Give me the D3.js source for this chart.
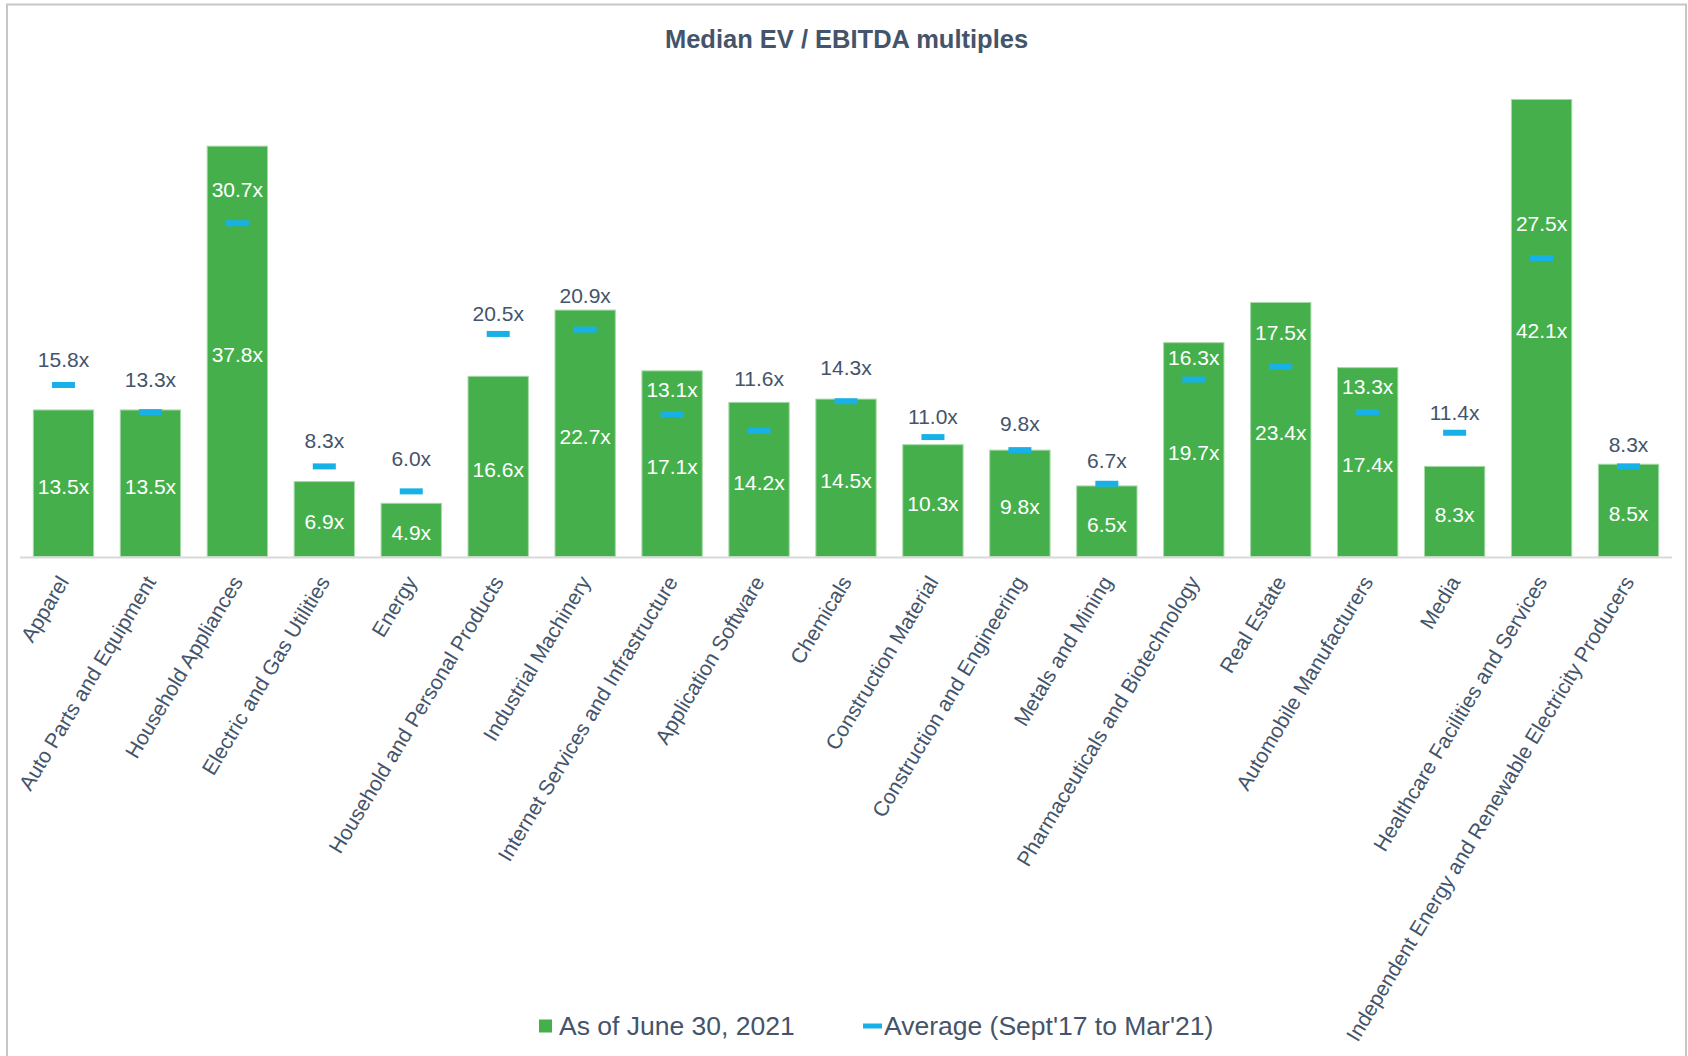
<!DOCTYPE html>
<html lang="en">
	<head>
		<meta charset="utf-8">
		<title>Median EV / EBITDA multiples</title>
		<script src="https://d3js.org/d3.v7.min.js"></script>
		<style>
			body { margin: 0; background: #fff; }
			text { font-family: "Liberation Sans", Arial, sans-serif; }
		</style>
	</head>
	<body>
		<script type="text/javascript">

			// Data
			var sectors = ["Apparel", "Auto Parts and Equipment", "Household Appliances", "Electric and Gas Utilities",
				"Energy", "Household and Personal Products", "Industrial Machinery", "Internet Services and Infrastructure",
				"Application Software", "Chemicals", "Construction Material", "Construction and Engineering",
				"Metals and Mining", "Pharmaceuticals and Biotechnology", "Real Estate", "Automobile Manufacturers",
				"Media", "Healthcare Facilities and Services", "Independent Energy and Renewable Electricity Producers"];
			var current = [13.5, 13.5, 37.8, 6.9, 4.9, 16.6, 22.7, 17.1, 14.2, 14.5, 10.3, 9.8, 6.5, 19.7, 23.4, 17.4, 8.3, 42.1, 8.5];
			var average = [15.8, 13.3, 30.7, 8.3, 6.0, 20.5, 20.9, 13.1, 11.6, 14.3, 11.0, 9.8, 6.7, 16.3, 17.5, 13.3, 11.4, 27.5, 8.3];
			var seriesNames = ["As of June 30, 2021", "Average (Sept'17 to Mar'21)"];

			// manual nudges of the average labels above their markers (px), as placed in the original
			var avgLabelLift = [25, 32, 34, 26, 33, 20, 34, 25, 52, 34, 20, 26, 23, 22, 34, 25, 20, 34, 22];

			//Width and height
			var w = 1688;
			var h = 1056;
			var green = "#45b04b";
			var blue = "#17b1e7";
			var slate = "#44546a";

			var svg = d3.select("body")
						.append("svg")
						.attr("width", w)
						.attr("height", h);

			// chart border
			svg.append("rect")
				.attr("x", 7).attr("y", 4.5)
				.attr("width", 1679).attr("height", 1100)
				.attr("fill", "none")
				.attr("stroke", "#c6c6c6")
				.attr("stroke-width", 2);

			// title
			svg.append("text")
				.attr("x", 846.5).attr("y", 48)
				.attr("text-anchor", "middle")
				.attr("font-size", 25.5)
				.attr("font-weight", "bold")
				.attr("fill", slate)
				.text("Median EV / EBITDA multiples");

			var x = d3.scaleBand()
				.domain(sectors)
				.range([20, 1672])
				.paddingInner(0.306)
				.paddingOuter(0.153);

			var y = d3.scaleLinear()
				.domain([0, 45])
				.range([556.5, 68]);

			// bars
			svg.selectAll("rect.bar")
				.data(sectors)
				.enter()
				.append("rect")
				.attr("class", "bar")
				.attr("x", function(d) { return x(d); })
				.attr("y", function(d, i) { return y(current[i]); })
				.attr("width", x.bandwidth())
				.attr("height", function(d, i) { return y(0) - y(current[i]); })
				.attr("fill", green)
				.attr("stroke", "#a6d9a8")
				.attr("stroke-width", 1);

			// axis line
			svg.append("line")
				.attr("x1", 20).attr("x2", 1672)
				.attr("y1", 557.5).attr("y2", 557.5)
				.attr("stroke", "#d9d9d9")
				.attr("stroke-width", 2);

			// bar value labels
			svg.selectAll("text.val")
				.data(sectors)
				.enter()
				.append("text")
				.attr("class", "val")
				.attr("x", function(d) { return x(d) + x.bandwidth() / 2; })
				.attr("y", function(d, i) { return (y(current[i]) + y(0)) / 2 + 3; })
				.attr("dy", "0.35em")
				.attr("text-anchor", "middle")
				.attr("font-size", 21)
				.attr("fill", "#fff")
				.text(function(d, i) { return current[i].toFixed(1) + "x"; });

			// average markers
			svg.selectAll("rect.avg")
				.data(sectors)
				.enter()
				.append("rect")
				.attr("class", "avg")
				.attr("x", function(d) { return x(d) + x.bandwidth() / 2 - 11.5; })
				.attr("y", function(d, i) { return y(average[i]) - 3; })
				.attr("width", 23)
				.attr("height", 6)
				.attr("fill", blue);

			// average labels
			svg.selectAll("text.avgl")
				.data(sectors)
				.enter()
				.append("text")
				.attr("class", "avgl")
				.attr("x", function(d) { return x(d) + x.bandwidth() / 2; })
				.attr("y", function(d, i) { return y(average[i]) - avgLabelLift[i]; })
				.attr("dy", "0.35em")
				.attr("text-anchor", "middle")
				.attr("font-size", 21)
				.attr("fill", function(d, i) {
					return (y(average[i]) - avgLabelLift[i]) > y(current[i]) ? "#fff" : slate;
				})
				.text(function(d, i) { return average[i].toFixed(1) + "x"; });

			// category labels
			svg.selectAll("text.cat")
				.data(sectors)
				.enter()
				.append("text")
				.attr("class", "cat")
				.attr("transform", function(d) {
					return "translate(" + (x(d) + x.bandwidth() / 2) + ",578) rotate(-59)";
				})
				.attr("dy", "0.35em")
				.attr("text-anchor", "end")
				.attr("font-size", 21)
				.attr("fill", slate)
				.text(function(d) { return d; });

			// legend
			var legend = svg.append("g").attr("transform", "translate(539,1026)");
			legend.append("rect")
				.attr("x", 0).attr("y", -6.5)
				.attr("width", 13).attr("height", 13)
				.attr("fill", green);
			legend.append("text")
				.attr("x", 20).attr("y", 0)
				.attr("dy", "0.35em")
				.attr("font-size", 26.5)
				.attr("fill", slate)
				.text(seriesNames[0]);
			legend.append("rect")
				.attr("x", 324).attr("y", -2.5)
				.attr("width", 19).attr("height", 5)
				.attr("fill", blue);
			legend.append("text")
				.attr("x", 345).attr("y", 0)
				.attr("dy", "0.35em")
				.attr("font-size", 26.5)
				.attr("fill", slate)
				.text(seriesNames[1]);

		</script>
	</body>
</html>
